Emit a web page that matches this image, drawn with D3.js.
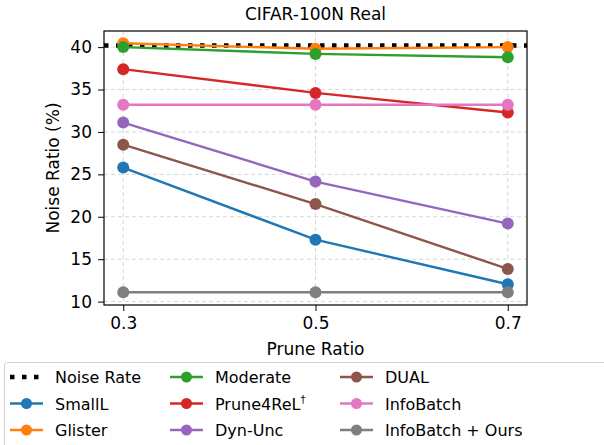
<!DOCTYPE html>
<html>
<head>
<meta charset="utf-8">
<script src="https://cdn.jsdelivr.net/npm/d3@7"></script>
<style>
  body { margin: 0; background: #fff; }
  svg { font-family: "DejaVu Sans", sans-serif; }
</style>
</head>
<body>
<svg width="604" height="445"></svg>
<script>
// Data
const pruneRatios = [0.3, 0.5, 0.7];
const noiseRate = 40.2;
const smallL = [25.8, 17.3, 12.05];
const glister = [40.45, 39.8, 40.0];
const moderate = [40.0, 39.2, 38.8];
const prune4rel = [37.4, 34.6, 32.3];
const dynUnc = [31.1, 24.15, 19.2];
const dual = [28.5, 21.5, 13.85];
const infoBatch = [33.2, 33.2, 33.2];
const infoBatchOurs = [11.1, 11.1, 11.1];
const yTicks = [10, 15, 20, 25, 30, 35, 40];

const series = [
    { name: "SmallL", color: "#1f77b4", values: smallL },
    { name: "Glister", color: "#ff7f0e", values: glister },
    { name: "Moderate", color: "#2ca02c", values: moderate },
    { name: "Prune4ReL", sup: "†", color: "#d62728", values: prune4rel },
    { name: "Dyn-Unc", color: "#9467bd", values: dynUnc },
    { name: "DUAL", color: "#8c564b", values: dual },
    { name: "InfoBatch", color: "#e377c2", values: infoBatch },
    { name: "InfoBatch + Ours", color: "#7f7f7f", values: infoBatchOurs }
];

const margin = { top: 31, left: 104, right: 77, bottom: 140 };
const width = 604 - margin.left - margin.right;
const height = 445 - margin.top - margin.bottom;
const fs = 17;

const svg = d3.select("svg");
const g = svg.append("g")
    .attr("transform", `translate(${margin.left},${margin.top})`);

const x = d3.scaleLinear().domain([0.28, 0.72]).range([0, width]);
const y = d3.scaleLinear().domain([9.6, 41.9]).range([height, 0]);

// Grid
g.append("g").selectAll("line")
    .data(pruneRatios)
  .enter().append("line")
    .attr("x1", d => x(d)).attr("x2", d => x(d))
    .attr("y1", 0).attr("y2", height)
    .attr("stroke", "#d3d3d3").attr("stroke-width", 0.9)
    .attr("stroke-dasharray", "4,3");
g.append("g").selectAll("line")
    .data(yTicks)
  .enter().append("line")
    .attr("x1", 0).attr("x2", width)
    .attr("y1", d => y(d)).attr("y2", d => y(d))
    .attr("stroke", "#d3d3d3").attr("stroke-width", 0.9)
    .attr("stroke-dasharray", "4,3");

g.append("clipPath").attr("id", "clip")
  .append("rect").attr("width", width).attr("height", height);

// Noise rate line
g.append("line")
    .attr("clip-path", "url(#clip)")
    .attr("x1", 0).attr("x2", width)
    .attr("y1", y(noiseRate)).attr("y2", y(noiseRate))
    .attr("stroke", "#000").attr("stroke-width", 4.5)
    .attr("stroke-dasharray", "4.5,7.5");

// Series
const line = d3.line()
    .x((d, i) => x(pruneRatios[i]))
    .y(d => y(d));

series.forEach(s => {
    g.append("path")
        .datum(s.values)
        .attr("fill", "none")
        .attr("stroke", s.color)
        .attr("stroke-width", 2.4)
        .attr("d", line);
    g.append("g").selectAll("circle")
        .data(s.values)
      .enter().append("circle")
        .attr("cx", (d, i) => x(pruneRatios[i]))
        .attr("cy", d => y(d))
        .attr("r", 6)
        .attr("fill", s.color);
});

// Axes
const xAxis = g.append("g")
    .attr("transform", `translate(0,${height})`)
    .call(d3.axisBottom(x).tickValues(pruneRatios).tickFormat(d3.format(".1f")).tickSizeOuter(0).tickSize(6).tickPadding(6));
const yAxis = g.append("g")
    .call(d3.axisLeft(y).tickValues(yTicks).tickSizeOuter(0).tickSize(6).tickPadding(6));
[xAxis, yAxis].forEach(a => {
    a.selectAll("text").attr("font-size", fs).attr("fill", "#000")
        .attr("font-family", "DejaVu Sans");
    a.selectAll("line").attr("stroke", "#000").attr("stroke-width", 1);
    a.select(".domain").remove();
});

g.append("rect")
    .attr("width", width).attr("height", height)
    .attr("fill", "none").attr("stroke", "#000").attr("stroke-width", 1.2);

// Title and labels
g.append("text")
    .attr("x", width / 2).attr("y", -11)
    .attr("text-anchor", "middle")
    .attr("font-size", fs)
    .text("CIFAR-100N Real");

g.append("text")
    .attr("x", width / 2).attr("y", height + 50)
    .attr("text-anchor", "middle")
    .attr("font-size", fs)
    .text("Prune Ratio");

g.append("text")
    .attr("transform", "rotate(-90)")
    .attr("x", -height / 2).attr("y", -45)
    .attr("text-anchor", "middle")
    .attr("font-size", fs)
    .text("Noise Ratio (%)");

// Legend
const legend = svg.append("g");
legend.append("rect")
    .attr("x", 4.5).attr("y", 362.5)
    .attr("width", 610).attr("height", 90)
    .attr("rx", 3)
    .attr("fill", "#fff").attr("stroke", "#d0d0d0").attr("stroke-width", 1);

const entries = [{ name: "Noise Rate", noise: true }].concat(series);
const colX = [10, 170, 340];
const rowY = [377, 403.5, 430];
entries.forEach((e, i) => {
    const cx = colX[Math.floor(i / 3)];
    const cy = rowY[i % 3];
    const item = legend.append("g");
    if (e.noise) {
        item.append("line")
            .attr("x1", cx).attr("x2", cx + 33)
            .attr("y1", cy).attr("y2", cy)
            .attr("stroke", "#000").attr("stroke-width", 4.5)
            .attr("stroke-dasharray", "4.5,7.5");
    } else {
        item.append("line")
            .attr("x1", cx).attr("x2", cx + 33)
            .attr("y1", cy).attr("y2", cy)
            .attr("stroke", e.color).attr("stroke-width", 2.4);
        item.append("circle")
            .attr("cx", cx + 16.5).attr("cy", cy).attr("r", 5.5)
            .attr("fill", e.color);
    }
    const t = item.append("text")
        .attr("x", cx + 45).attr("y", cy + 6)
        .attr("font-size", 16)
        .text(e.name);
    if (e.sup) {
        t.append("tspan").attr("dy", -7).attr("font-size", 10).text(e.sup);
    }
});
</script>
</body>
</html>
